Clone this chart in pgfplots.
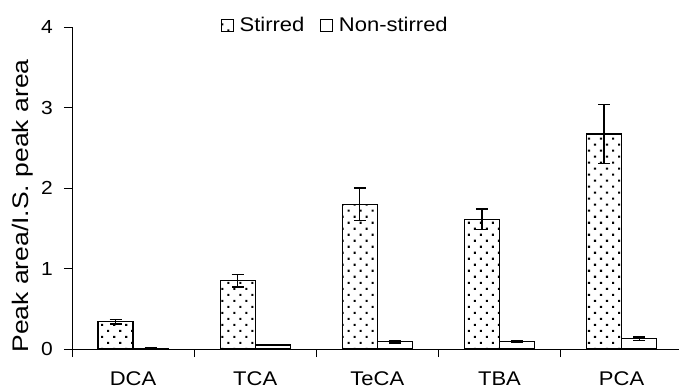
\documentclass[border=0pt]{standalone}
\usepackage{pgfplots}
\pgfplotsset{compat=1.18}
\usepackage{fontspec}
\setmainfont{Liberation Sans}
\usetikzlibrary{patterns.meta}
\newcommand{\sq}[1]{\scalebox{1}[0.9]{#1}}
\begin{document}
\begin{tikzpicture}
\begin{axis}[
  at={(0,0)}, anchor=south west,
  scale only axis,
  width=607pt, height=322pt,
  xmin=-0.5, xmax=4.47,
  ymin=0, ymax=4,
  axis x line=bottom, axis y line=left,
  axis line style={-, line width=1pt},
  ytick={0,1,2,3,4},
  yticklabels={\sq{0},\sq{1},\sq{2},\sq{3},\sq{4}},
  xtick={0,1,2,3,4},
  xticklabels={\sq{DCA},\sq{TCA},\sq{TeCA},\sq{TBA},\sq{PCA}},
  minor xtick={-0.5,0.5,1.5,2.5,3.5},
  major x tick style={draw=none},
  tick style={black, line width=1pt},
  tick align=outside,
  major tick length=8pt,
  minor tick length=8pt,
  xticklabel style={font=\fontsize{22}{26}\selectfont, anchor=base, inner sep=0pt, yshift=-28pt},
  yticklabel style={font=\fontsize{21}{25}\selectfont, anchor=east, inner sep=0pt, xshift=-11pt},
  ylabel={\scalebox{1}[0.85]{Peak area/I.S. peak area}},
  every axis y label/.style={at={(rel axis cs:0,0.444)}, xshift=-49.5pt, rotate=90, anchor=center,
    font=\fontsize{26.5}{30}\selectfont},
  ybar, bar width=0.287,
  legend style={draw=none, fill=none, at={(rel axis cs:0.434,1.006)}, anchor=center,
    legend columns=2, /tikz/every even column/.append style={column sep=14pt},
    font=\fontsize{22}{26}\selectfont, inner sep=0pt},
  legend image code/.code={\draw[#1, line width=1pt] (0pt,-6pt) rectangle (12pt,6pt); \path[draw=none, fill=none] (0pt,0pt) -- (16pt,0pt);},
]
\addplot[bar shift=-0.1435, draw=black, line width=1.2pt,
  pattern={Dots[distance=8.5pt, angle=45, radius=1.5pt]},
  error bars/.cd, y dir=both, y explicit,
  error bar style={line width=1.2pt, black},
  error mark options={rotate=90, mark size=6pt, line width=1.2pt, black}]
  coordinates {(0,0.34) +- (0,0.03) (1,0.85) +- (0,0.08) (2,1.80) +- (0,0.20) (3,1.61) +- (0,0.13) (4,2.67) +- (0,0.37)};
\addlegendentry{\sq{Stirred}}
\addplot[bar shift=0.1435, draw=black, fill=white, line width=1.2pt,
  error bars/.cd, y dir=both, y explicit,
  error bar style={line width=1.2pt, black},
  error mark options={rotate=90, mark size=6pt, line width=1.2pt, black}]
  coordinates {(0,0.01) +- (0,0.005) (1,0.05) +- (0,0.01) (2,0.09) +- (0,0.015) (3,0.09) +- (0,0.01) (4,0.13) +- (0,0.02)};
\addlegendentry{\sq{Non-stirred}}
\end{axis}
\pgfresetboundingbox
\path[use as bounding box] (-72pt,-42pt) rectangle (607pt,349pt);
\end{tikzpicture}
\end{document}
